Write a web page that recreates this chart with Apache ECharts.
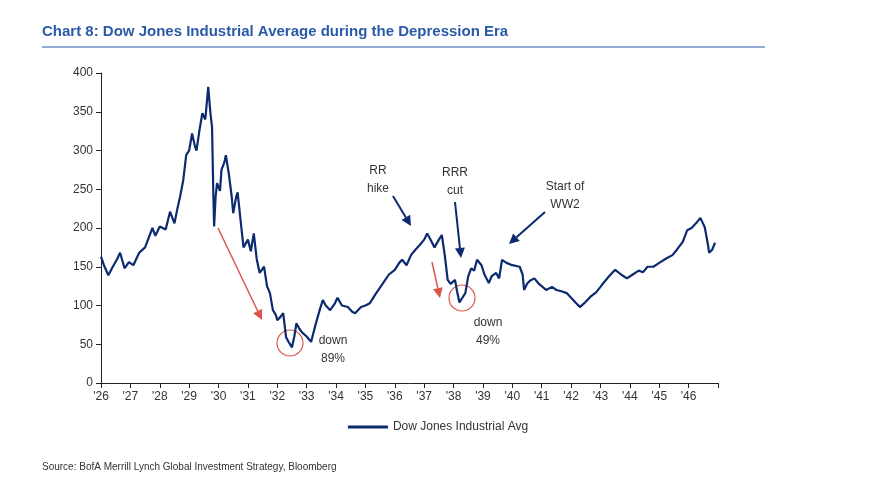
<!DOCTYPE html>
<html lang="en">
<head>
    <meta charset="utf-8">
    <title>Dow Jones Depression Era</title>
    <script src="https://cdn.jsdelivr.net/npm/echarts@6.0.0/dist/echarts.min.js"></script>
</head>
<body style="margin:0;background:#fff">
    <div id="main" style="width:876px; height:496px;"></div>

<script type="text/javascript">
var myChart = echarts.init(document.getElementById('main'));

// [year, index level]
var dow = [
  [1926.0,163],[1926.1,152],[1926.25,139],[1926.4,150],[1926.55,160],[1926.65,168],[1926.8,148],[1926.95,156],
  [1927.1,152],[1927.3,168],[1927.5,175],[1927.75,200],[1927.85,190],[1928.0,202],[1928.2,198],[1928.35,221],
  [1928.5,206],[1928.6,225],[1928.7,242],[1928.8,262],[1928.9,294],[1929.0,300],[1929.1,322],[1929.2,305],
  [1929.25,300],[1929.35,326],[1929.45,348],[1929.55,340],[1929.65,382],[1929.72,350],[1929.78,330],[1929.82,250],
  [1929.85,202],[1929.9,240],[1929.95,258],[1930.05,248],[1930.1,275],[1930.2,285],[1930.25,294],[1930.35,270],
  [1930.45,240],[1930.5,219],[1930.6,240],[1930.65,246],[1930.75,210],[1930.85,175],[1931.0,185],[1931.1,170],
  [1931.2,193],[1931.3,160],[1931.4,142],[1931.55,150],[1931.65,125],[1931.75,116],[1931.85,94],[1931.95,88],
  [1932.0,81],[1932.1,85],[1932.2,90],[1932.3,59],[1932.4,52],[1932.5,46],[1932.58,60],[1932.65,77],
  [1932.75,70],[1932.85,65],[1933.0,60],[1933.15,53],[1933.3,75],[1933.45,95],[1933.55,107],[1933.65,100],
  [1933.8,94],[1933.95,102],[1934.05,110],[1934.2,100],[1934.4,98],[1934.55,92],[1934.65,90],[1934.85,98],
  [1935.0,100],[1935.15,103],[1935.35,115],[1935.6,129],[1935.8,140],[1936.0,146],[1936.15,155],[1936.25,159],
  [1936.4,152],[1936.55,165],[1936.7,172],[1936.85,178],[1937.0,185],[1937.1,193],[1937.2,186],[1937.35,175],
  [1937.5,185],[1937.6,191],[1937.7,165],[1937.8,133],[1937.9,128],[1938.05,133],[1938.12,118],[1938.2,104],
  [1938.3,110],[1938.4,116],[1938.5,138],[1938.6,148],[1938.7,145],[1938.8,159],[1938.95,152],[1939.05,140],
  [1939.2,129],[1939.3,138],[1939.45,142],[1939.55,135],[1939.65,159],[1939.8,155],[1940.0,152],[1940.25,150],
  [1940.35,140],[1940.4,120],[1940.5,128],[1940.6,132],[1940.75,135],[1940.9,128],[1941.0,125],[1941.15,120],
  [1941.35,124],[1941.5,120],[1941.7,118],[1941.85,116],[1942.0,110],[1942.15,104],[1942.3,98],[1942.45,103],
  [1942.65,111],[1942.85,117],[1943.0,124],[1943.1,129],[1943.3,138],[1943.5,146],[1943.7,140],[1943.9,135],
  [1944.1,140],[1944.3,145],[1944.45,143],[1944.6,150],[1944.8,150],[1945.0,155],[1945.25,161],[1945.45,165],
  [1945.6,172],[1945.8,182],[1945.95,197],[1946.1,200],[1946.25,206],[1946.4,213],[1946.5,205],[1946.55,201],
  [1946.65,180],[1946.7,168],[1946.8,172],[1946.9,181]
];

var txt = { fill: '#333', font: '12px "Liberation Sans", Arial', textAlign: 'center' };
var red = '#d9584a', navy = '#0b2a6f';

function arrow(x1, y1, x2, y2, col) {
  var a = Math.atan2(y2 - y1, x2 - x1), L = 10, W = 5;
  return [
    { type: 'line', shape: { x1: x1, y1: y1, x2: x2 - L * Math.cos(a), y2: y2 - L * Math.sin(a) }, style: { stroke: col, lineWidth: col === red ? 1.5 : 2 } },
    { type: 'polygon', shape: { points: [[x2, y2],
        [x2 - L * Math.cos(a) + W * Math.sin(a), y2 - L * Math.sin(a) - W * Math.cos(a)],
        [x2 - L * Math.cos(a) - W * Math.sin(a), y2 - L * Math.sin(a) + W * Math.cos(a)]] }, style: { fill: col } }
  ];
}

var graphics = [
  { type: 'text', left: 42, top: 24, style: { text: 'Chart 8: Dow Jones Industrial Average during the Depression Era', fill: '#2a5aa8', font: 'bold 15px "Liberation Sans Narrow", "Liberation Sans", Arial' } },
  { type: 'line', shape: { x1: 42, y1: 47, x2: 765, y2: 47 }, style: { stroke: '#2a5aa8', lineWidth: 1 } },
  { type: 'text', left: 42, top: 462, style: { text: 'Source: BofA Merrill Lynch Global Investment Strategy, Bloomberg', fill: '#333', font: '10px "Liberation Sans Narrow", "Liberation Sans", Arial' } },
  { type: 'circle', shape: { cx: 290, cy: 343, r: 13 }, style: { fill: 'none', stroke: red, lineWidth: 1.2 } },
  { type: 'circle', shape: { cx: 462, cy: 298, r: 13 }, style: { fill: 'none', stroke: red, lineWidth: 1.2 } },
  { type: 'text', x: 333, y: 332, style: Object.assign({ text: 'down\n89%', lineHeight: 18 }, txt) },
  { type: 'text', x: 488, y: 314, style: Object.assign({ text: 'down\n49%', lineHeight: 18 }, txt) },
  { type: 'text', x: 378, y: 162, style: Object.assign({ text: 'RR\nhike', lineHeight: 18 }, txt) },
  { type: 'text', x: 455, y: 164, style: Object.assign({ text: 'RRR\ncut', lineHeight: 18 }, txt) },
  { type: 'text', x: 565, y: 178, style: Object.assign({ text: 'Start of\nWW2', lineHeight: 18 }, txt) }
].concat(
  arrow(218, 228, 262, 320, red),
  arrow(432, 262, 440, 298, red),
  arrow(393, 196, 411, 226, navy),
  arrow(455, 202, 461, 258, navy),
  arrow(545, 212, 509, 244, navy)
);

myChart.setOption({
  animation: false,
  grid: { left: 101, right: 158, top: 73, bottom: 113 },
  legend: {
    bottom: 58, left: 'center',
    itemWidth: 40, itemHeight: 3,
    textStyle: { color: '#333', fontSize: 12, fontFamily: 'Liberation Sans' },
    data: [{ name: 'Dow Jones Industrial Avg', icon: 'rect' }]
  },
  xAxis: {
    type: 'value', min: 1926, max: 1947, interval: 1,
    splitLine: { show: false },
    axisLine: { lineStyle: { color: '#222' } },
    axisTick: { lineStyle: { color: '#222' } },
    axisLabel: { color: '#333', fontSize: 12, fontFamily: 'Liberation Sans',
      formatter: function (v) { return v >= 1947 ? '' : "'" + String(v).slice(2); } }
  },
  yAxis: {
    type: 'value', min: 0, max: 400, interval: 50,
    splitLine: { show: false },
    axisLine: { show: true, lineStyle: { color: '#222' } },
    axisTick: { show: true, lineStyle: { color: '#222' } },
    axisLabel: { color: '#333', fontSize: 12, fontFamily: 'Liberation Sans' }
  },
  series: [{
    name: 'Dow Jones Industrial Avg',
    type: 'line',
    data: dow,
    showSymbol: false,
    color: '#0b2a6f',
    lineStyle: { width: 2.2, color: '#0b2a6f' }
  }],
  graphic: graphics
});
</script>
</body>
</html>
